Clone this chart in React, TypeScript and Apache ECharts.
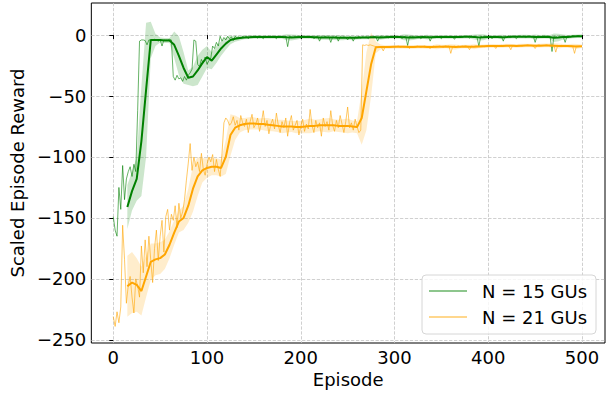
import React, { useEffect, useRef } from 'react';
import * as echarts from 'echarts';

// Raw episode rewards, one value every RAW_STEP episodes (ep 0..498)
const RAW_STEP = 2;
const greenRaw = [
  -149, -160, -165, -125, -143, -107, -135, -118, -112, -108,
  -116, -106, -112, -62, -5, -4, -4, -4.5, -8, -4,
  -4, -4, -3.5, -4, -5, -4, -9, -4, -4, -4,
  -3.5, -4, -34, -37, -33, -36, -35, -38, -34, -37,
  -33, -31, -28, -4, -5, -24, -26, -20, -23, -18,
  -24, -21, -19, -9, -11, -6, -9, -1, -5, -2,
  -4, -1, -3, -1.5, -4.5, -1, -2.5, -1.5, -3, -1,
  -2, -1, -3, -1.5, -1, -2, -1, -2.5, -1, -1.5,
  -3, -1, -1.5, -1, -2, -1, -1.5, -3, -1, -1.5,
  -1, -2, -1, -9.5, -1, -1.5, -2, -1, -1.5, -1,
  -2.5, -1, -1.5, -1, -2, -1.5, -1, -3, -1.5, -1,
  -5, -1.5, -2, -1, -2, -1.5, -6, -1.5, -2, -1,
  -5, -1.5, -2, -1.5, -2, -4, -1.5, -2, -5, -1.5,
  -2, -1, -2.5, -1.5, -2, -1.5, -3, -1.5, -2, -1,
  -1.5, -5, -1.5, -1, -2, -1.5, -1, -2.5, -1, -1.5,
  -1, -2, -1.5, -1, -3, -1, -1.5, -8.5, -1, -1.5,
  -1, -2, -1.5, -1, -3, -1.5, -1, -2, -1, -5,
  -1.5, -1, -2, -1, -1.5, -3, -1, -1.5, -1, -2,
  -1, -1.5, -3.5, -1, -1.5, -1, -2, -1, -1.5, -1,
  -2.5, -1, -1.5, -1, -2, -9, -1, -1.5, -1, -2,
  -1.5, -1, -3, -1, -1.5, -1, -2, -1, -5, -1,
  -1.5, -1, -2, -1, -1.5, -3, -1, -1, -1.5, -1,
  -2, -1, -1, -1.5, -1, -6, -1, -1, -1.5, -1,
  -2, -1, -1, -1.5, -13.5, -1, -1, -2, -1, -1,
  -1.5, -6, -1, -1, -1.5, -0.5, -1, -1, -0.5, -1,
];
const orangeRaw = [
  -231, -239, -227, -236, -223, -156, -184, -220, -205, -198,
  -215, -228, -200, -206, -215, -173, -195, -168, -190, -165,
  -185, -203, -175, -160, -185, -165, -152, -178, -149, -143,
  -160, -147, -152, -140, -158, -138, -150, -145, -135, -119,
  -105, -89, -111, -100, -108, -104, -112, -97, -110, -115,
  -106, -100, -104, -98, -112, -102, -110, -116, -97, -72,
  -68, -70, -74, -72, -67, -74, -70, -78, -66, -72,
  -75, -69, -80, -71, -65, -76, -73, -68, -79, -72,
  -62, -75, -70, -81, -73, -69, -77, -64, -74, -80,
  -71, -76, -68, -83, -72, -66, -78, -74, -70, -82,
  -75, -69, -79, -73, -77, -61, -74, -80, -70, -76,
  -72, -83, -68, -75, -71, -78, -62, -74, -79, -70,
  -76, -66, -73, -80, -71, -59, -76, -72, -78, -69,
  -75, -80, -78, -8, -8.5, -8, -8.5, -8, -8.5, -9,
  -9.5, -10, -9.5, -10, -13, -9.5, -10, -9.5, -10, -9.5,
  -10, -9.5, -9, -10, -9.5, -10, -9.5, -9, -11, -9.5,
  -9.5, -10, -9, -9.5, -10, -9.5, -9, -9.5, -10, -11,
  -9.5, -9, -10, -9.5, -9, -9.5, -10, -9, -9.5, -9,
  -15, -9.5, -9, -9.5, -9, -10, -9, -9.5, -9, -9.5,
  -12, -9, -9.5, -9, -9, -9.5, -9, -9, -9.5, -9,
  -9, -8.5, -9, -9, -11, -8.5, -9, -8.5, -9, -8.5,
  -8.5, -9, -12, -8.5, -8.5, -9, -8.5, -8.5, -9, -8.5,
  -8.5, -8, -8.5, -8.5, -9, -11, -8.5, -8, -8.5, -8.5,
  -8.5, -8, -8.5, -9, -8.5, -8.5, -14, -8.5, -9, -8.5,
  -9, -8.5, -9, -9.5, -9, -9, -15, -9, -9, -9,
];

// Smoothed rewards and their spread, one value every SMOOTH_STEP episodes (ep 0..500)
const SMOOTH_STEP = 5;
const greenSmooth = [
  null, null, null, -141, -128, -118, -87, -45, -4, -4,
  -4, -4.5, -4.5, -8, -17, -27, -35, -34, -29, -23,
  -18, -21, -16, -11, -7, -4, -3, -2.5, -2, -1.7,
  -1.5, -1.5, -1.6, -1.5, -1.5, -1.6, -1.5, -1.8, -2, -1.8,
  -1.6, -1.5, -1.6, -1.7, -1.9, -1.9, -2, -2.1, -2.2, -2.2,
  -2.3, -2.3, -2.2, -2, -1.9, -1.8, -1.8, -1.9, -1.7, -1.5,
  -1.5, -1.6, -1.8, -2, -2, -1.8, -1.6, -1.7, -1.8, -1.6,
  -1.5, -1.5, -1.5, -1.6, -1.5, -1.4, -1.4, -1.6, -1.9, -1.8,
  -1.6, -1.5, -1.5, -1.7, -1.6, -1.4, -1.4, -1.3, -1.3, -1.4,
  -1.6, -1.5, -1.3, -1.6, -2.2, -2, -1.6, -1.5, -1.2, -1, -0.9,
];
const greenStd = [
  null, null, null, 18, 16, 18, 45, 55, 15, 5,
  2, 2, 2, 11, 16, 13, 6, 8, 12, 11,
  9, 7, 7, 6, 5, 3.5, 2.5, 2, 1.5, 1.5,
  1.5, 1.5, 1.5, 1.5, 1.5, 1.5, 1.5, 2.5, 2.5, 2,
  1.5, 1.5, 1.5, 1.5, 2, 2, 2, 2, 2, 2,
  1.5, 2, 1.5, 1.5, 1.5, 1.5, 1.5, 2, 1.5, 1.5,
  1.5, 1.5, 2.5, 2.5, 2, 1.5, 1.5, 2, 1.5, 1.5,
  1.5, 1.5, 1.5, 1.5, 1.5, 1.5, 1.5, 2, 2.5, 2.5,
  1.5, 1.5, 1.5, 2, 1.5, 1.5, 1.5, 1.5, 1.5, 1.5,
  2, 1.5, 1.5, 1.5, 3.5, 3, 2, 1.5, 1.5, 1.5, 1.5,
];
const orangeSmooth = [
  null, null, null, -206, -203, -205, -210, -198, -186, -184,
  -183, -180, -172, -162, -153, -150, -140, -126, -116, -111,
  -109, -108, -108, -109, -100, -82, -76, -74, -73, -72.5,
  -72.5, -73, -73, -73.5, -74, -74.5, -75, -75, -75, -75.5,
  -75.5, -75, -74.5, -74.5, -74, -74, -74, -74, -74.5, -74.5,
  -74.5, -75, -75.5, -68, -46, -24, -10, -9.8, -9.8, -9.7,
  -9.6, -9.6, -9.6, -9.7, -9.7, -9.6, -9.6, -9.7, -9.8, -9.6,
  -9.5, -9.4, -9.6, -9.8, -9.6, -9.4, -9.5, -9.6, -9.4, -9.2,
  -9, -8.9, -9, -8.9, -8.7, -8.8, -8.9, -8.7, -8.6, -8.6,
  -8.8, -8.7, -8.5, -8.5, -8.7, -9, -8.9, -9, -9.1, -9.3, -9.2,
];
const orangeStd = [
  null, null, null, 25, 25, 22, 20, 17, 15, 13,
  13, 12, 11, 10, 9, 10, 14, 19, 16, 10,
  8, 7, 7, 7, 14, 17, 10, 6, 5, 5,
  5, 4.5, 5, 5.5, 5, 5, 5.5, 5, 4.5, 5,
  5, 5.5, 6, 5, 5, 5.5, 6, 5, 5, 5.5,
  6, 5, 5, 22, 32, 26, 5, 2, 1.5, 1.5,
  1.5, 1.5, 1.5, 1.5, 1.5, 1.5, 1.5, 1.5, 1.5, 2,
  1.5, 1.5, 2, 2, 1.5, 1.5, 1.5, 2, 1.5, 1.5,
  1.5, 1.5, 1.5, 1.5, 1.5, 1.5, 1.5, 1.5, 1.5, 1.5,
  1.5, 1.5, 1.5, 1.5, 2, 2, 1.5, 1.5, 2, 2, 1.5,
];

const xTicks = [0, 100, 200, 300, 400, 500];
const yTicks = [-250, -200, -150, -100, -50, 0];
const legendLabels = ['N = 15 GUs', 'N = 21 GUs'];

const GREEN = '#008000';
const ORANGE = '#FFA500';
const GREEN_RAW = 'rgba(0,128,0,0.6)';
const ORANGE_RAW = 'rgba(255,165,0,0.6)';
const GREEN_BAND = 'rgba(0,128,0,0.2)';
const ORANGE_BAND = 'rgba(255,165,0,0.2)';
const FONT = 'DejaVu Sans';

function rawPairs(arr: number[]) {
  return arr.map((v, i) => [i * RAW_STEP, v]);
}
function smoothPairs(arr: (number | null)[]) {
  const out: number[][] = [];
  arr.forEach((v, i) => {
    if (v != null) out.push([i * SMOOTH_STEP, v]);
  });
  return out;
}
function bandPoints(s: (number | null)[], sd: (number | null)[]) {
  const out: number[][] = [];
  s.forEach((v, i) => {
    const d = sd[i];
    if (v != null && d != null) out.push([i * SMOOTH_STEP, v - d, v + d]);
  });
  return out;
}
const minus = (v: number) => String(v).replace('-', '\u2212');

function bandSeries(name: string, s: (number | null)[], sd: (number | null)[], color: string) {
  const pts = bandPoints(s, sd);
  return {
    name,
    type: 'custom',
    data: pts,
    encode: { x: 0, y: [1, 2] },
    silent: true,
    clip: true,
    z: 1,
    renderItem: (params: any, api: any) => {
      if (params.dataIndex !== 0) return null;
      const upper = pts.map((p) => api.coord([p[0], p[2]]));
      const lower = pts.map((p) => api.coord([p[0], p[1]])).reverse();
      return {
        type: 'polygon',
        shape: { points: upper.concat(lower) },
        style: { fill: color, stroke: 'none' },
        silent: true,
      };
    },
  };
}

export default function App() {
  const ref = useRef<HTMLDivElement>(null);
  useEffect(() => {
    document.body.style.margin = '0';
    if (!ref.current) return;
    const chart = echarts.init(ref.current, undefined, { renderer: 'svg' });
    chart.setOption({
      animation: false,
      backgroundColor: '#fff',
      grid: {
        left: 90,
        right: 5,
        top: 3,
        bottom: 51,
        show: true,
        borderColor: '#000',
        borderWidth: 1,
        containLabel: false,
      },
      xAxis: {
        type: 'value',
        min: -23.4,
        max: 524.5,
        name: 'Episode',
        nameLocation: 'middle',
        nameGap: 25,
        nameTextStyle: { fontSize: 18, color: '#000', fontFamily: FONT },
        axisLine: { show: false },
        axisTick: { show: true, inside: false, length: 4, customValues: xTicks, lineStyle: { color: '#000', width: 1 } },
        axisLabel: { customValues: xTicks, fontSize: 18, color: '#000', fontFamily: FONT, margin: 5, formatter: minus },
        splitLine: { show: true, lineStyle: { color: '#c4c4c4', width: 0.8, type: [3.3, 1.6] } },
      },
      yAxis: {
        type: 'value',
        min: -252.6,
        max: 26.3,
        name: 'Scaled Episode Reward',
        nameLocation: 'middle',
        nameRotate: 90,
        nameGap: 60,
        nameTextStyle: { fontSize: 18, color: '#000', fontFamily: FONT },
        axisLine: { show: false },
        axisTick: { show: true, inside: false, length: 4, customValues: yTicks, lineStyle: { color: '#000', width: 1 } },
        axisLabel: { customValues: yTicks, fontSize: 18, color: '#000', fontFamily: FONT, margin: 5, formatter: minus },
        splitLine: { show: true, lineStyle: { color: '#c4c4c4', width: 0.8, type: [3.3, 1.6] } },
      },
      series: [
        {
          name: legendLabels[0],
          type: 'line',
          data: rawPairs(greenRaw),
          showSymbol: false,
          symbol: 'none',
          lineStyle: { color: GREEN_RAW, width: 1 },
          itemStyle: { color: GREEN_RAW },
          z: 2,
        },
        {
          name: 'green-smooth',
          type: 'line',
          data: smoothPairs(greenSmooth),
          showSymbol: false,
          symbol: 'none',
          lineStyle: { color: GREEN, width: 2 },
          z: 3,
        },
        bandSeries('green-band', greenSmooth, greenStd, GREEN_BAND),
        {
          name: legendLabels[1],
          type: 'line',
          data: rawPairs(orangeRaw),
          showSymbol: false,
          symbol: 'none',
          lineStyle: { color: ORANGE_RAW, width: 1 },
          itemStyle: { color: ORANGE_RAW },
          z: 2,
        },
        {
          name: 'orange-smooth',
          type: 'line',
          data: smoothPairs(orangeSmooth),
          showSymbol: false,
          symbol: 'none',
          lineStyle: { color: ORANGE, width: 2 },
          z: 3,
        },
        bandSeries('orange-band', orangeSmooth, orangeStd, ORANGE_BAND),
      ],
      graphic: [
        {
          type: 'rect',
          shape: { x: 422, y: 275, width: 174, height: 59, r: 4 },
          style: { fill: 'rgba(255,255,255,0.8)', stroke: '#d6d6d6', lineWidth: 1 },
          z: 10,
        },
        {
          type: 'line',
          shape: { x1: 429, y1: 291, x2: 467, y2: 291 },
          style: { stroke: GREEN_RAW, lineWidth: 1.5 },
          z: 11,
        },
        {
          type: 'line',
          shape: { x1: 429, y1: 317, x2: 467, y2: 317 },
          style: { stroke: ORANGE_RAW, lineWidth: 1.5 },
          z: 11,
        },
        {
          type: 'text',
          x: 482,
          y: 291,
          style: { text: legendLabels[0], fontSize: 18, fontFamily: FONT, fill: '#000', verticalAlign: 'middle', align: 'left' },
          z: 11,
        },
        {
          type: 'text',
          x: 482,
          y: 317,
          style: { text: legendLabels[1], fontSize: 18, fontFamily: FONT, fill: '#000', verticalAlign: 'middle', align: 'left' },
          z: 11,
        },
      ],
    });
    return () => chart.dispose();
  }, []);
  return <div ref={ref} style={{ width: 610, height: 394 }} />;
}
